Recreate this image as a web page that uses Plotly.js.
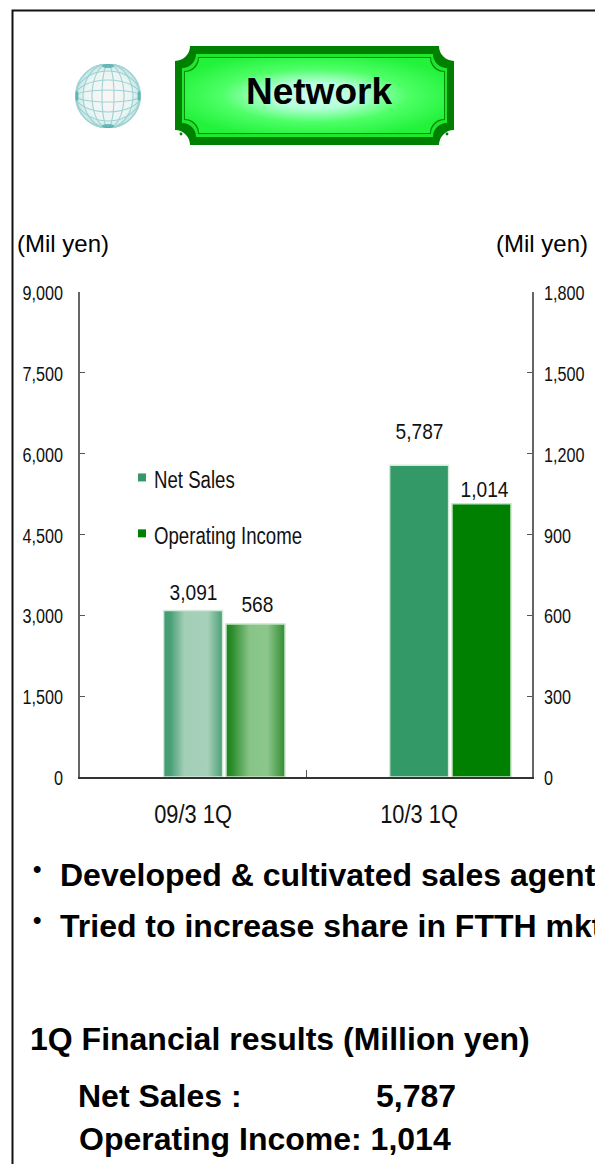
<!DOCTYPE html>
<html>
<head>
<meta charset="utf-8">
<script src="https://cdn.plot.ly/plotly-3.0.1.min.js"></script>
<style>
  html, body { margin: 0; padding: 0; background: #fff; overflow: hidden; }
  #chart { width: 595px; height: 1164px; }
</style>
</head>
<body>
<div id="chart"></div>
<script>
// Quarterly results for the Network segment
const categories = ['09/3 1Q', '10/3 1Q'];
const netSales = [3091, 5787];
const operatingIncome = [568, 1014];
const netSalesTicks = [0, 1500, 3000, 4500, 6000, 7500, 9000];
const incomeTicks = [0, 300, 600, 900, 1200, 1500, 1800];

const W = 595, H = 1164;
const plot = { l: 80, r: 532, t: 292, b: 777 };
const SANS = '"Liberation Sans", Arial, sans-serif';
const px = x => (x - plot.l) / (plot.r - plot.l);
const py = y => (plot.b - y) / (plot.b - plot.t);

// Scalloped plate outline used by the heading badge
function plate(x0, y0, x1, y1, r) {
  return `M${x0 + r},${y0}H${x1 - r}A${r},${r} 0 0 0 ${x1},${y0 + r}V${y1 - r}` +
         `A${r},${r} 0 0 0 ${x1 - r},${y1}H${x0 + r}A${r},${r} 0 0 0 ${x0},${y1 - r}` +
         `V${y0 + r}A${r},${r} 0 0 0 ${x0 + r},${y0}Z`;
}

const badgeSvg = `<svg xmlns="http://www.w3.org/2000/svg" width="279" height="99" viewBox="175 46 279 99">
<defs><radialGradient id="g" cx="50%" cy="50%" r="58%">
<stop offset="0" stop-color="#ccfff4"/><stop offset=".3" stop-color="#b4ffd8"/>
<stop offset=".62" stop-color="#4dff66"/><stop offset="1" stop-color="#22f23a"/></radialGradient></defs>
<path d="${plate(175, 46, 454, 145, 15)}" fill="#008000"/>
<path d="${plate(182, 54, 447, 137, 14)}" fill="#1fe62c"/>
<path d="${plate(184, 57, 445, 134, 14)}" fill="#0a8a0a"/>
<path d="${plate(185, 58, 444, 133, 14)}" fill="url(#g)"/>
<circle cx="181" cy="134" r="1.4" fill="#008000"/><circle cx="447" cy="134" r="1.4" fill="#008000"/>
</svg>`;

const globeLines = [6, 16, 25, 32].map(r =>
  `<ellipse cx="32.5" cy="32" rx="${r}" ry="32"/><ellipse cx="32.5" cy="32" rx="32.5" ry="${r}"/>`).join('');
const globeSvg = `<svg xmlns="http://www.w3.org/2000/svg" width="66" height="64" viewBox="0 0 65 64">
<defs><radialGradient id="s" cx="50%" cy="50%" r="50%">
<stop offset="0" stop-color="#fbf6f6"/><stop offset=".75" stop-color="#eaf5f4"/><stop offset="1" stop-color="#c4e5e5"/></radialGradient></defs>
<circle cx="32.5" cy="32" r="32" fill="url(#s)"/>
<g fill="none" stroke="#8cc9c9" stroke-width="1.1" opacity=".8">${globeLines}</g>
<g fill="#2f9c9c" opacity=".6"><ellipse cx="32.5" cy="2" rx="6" ry="2"/><ellipse cx="32.5" cy="62" rx="6" ry="2"/>
<ellipse cx="1.5" cy="32" rx="1.5" ry="5"/><ellipse cx="63.5" cy="32" rx="1.5" ry="5"/></g></svg>`;
const dataUri = s => 'data:image/svg+xml;charset=utf-8,' + encodeURIComponent(s);

// Free text placed in page pixels; x is the left edge, y the vertical centre
function note(text, x, y, size) {
  return {
    text, xref: 'paper', yref: 'paper', x: px(x), y: py(y),
    xanchor: 'left', yanchor: 'middle', showarrow: false,
    font: { family: SANS, size, color: '#000' }, borderpad: 0
  };
}
const boldNote = (text, x, y, size) => note('<b>' + text + '</b>', x, y, size);

// Value labels sit above their bars, each on the axis of its own series
const VALUE_SIZE = 22;
const valueLabel = (value, x, yref, lift) => ({
  text: value.toLocaleString('en-US'), x, y: value, xref: 'x', yref,
  yanchor: 'bottom', yshift: lift, showarrow: false,
  font: { family: SANS, size: VALUE_SIZE, color: '#111' }
});

const traces = [
  {
    type: 'bar', name: 'Net Sales', x: categories, y: netSales, yaxis: 'y',
    width: 0.261, offset: -0.13,
    marker: { color: '#339966', line: { color: '#d4ebdc', width: 1.5 } }, legendgroup: 'a'
  },
  {
    type: 'bar', name: 'Operating Income', x: categories, y: operatingIncome, yaxis: 'y2',
    width: 0.261, offset: 0.146,
    marker: { color: '#008000', line: { color: '#c4e6c4', width: 1.5 } }, legendgroup: 'b'
  }
];

const yAxisBase = {
  ticks: 'inside', ticklen: 5, tickwidth: 1, tickcolor: '#555',
  showline: true, linecolor: '#666', linewidth: 2, showgrid: false, zeroline: false,
  tickfont: { family: SANS, size: 20, color: '#111' }, tickformat: ',d'
};

const layout = {
  width: W, height: H,
  margin: { l: plot.l, r: W - plot.r, t: plot.t, b: H - plot.b, pad: 0 },
  paper_bgcolor: '#fff', plot_bgcolor: 'rgba(0,0,0,0)',
  barmode: 'overlay', bargap: 0,
  showlegend: true,
  legend: {
    x: px(114), y: py(458), xanchor: 'left', yanchor: 'top',
    font: { family: SANS, size: 23, color: '#111' },
    tracegroupgap: 23, bgcolor: 'rgba(0,0,0,0)', itemclick: false, itemdoubleclick: false
  },
  xaxis: {
    type: 'category', range: [-0.5, 1.5], tickson: 'boundaries',
    ticks: 'inside', ticklen: 7, tickwidth: 1, tickcolor: '#555',
    showline: true, linecolor: '#333', linewidth: 2, showgrid: false, zeroline: false,
    tickfont: { family: SANS, size: 26, color: '#111' }, ticklabelstandoff: 13
  },
  yaxis: Object.assign({}, yAxisBase, {
    range: [0, 9000], tickvals: netSalesTicks, ticklabelstandoff: 11
  }),
  yaxis2: Object.assign({}, yAxisBase, {
    overlaying: 'y', side: 'right', range: [0, 1800], tickvals: incomeTicks, ticklabelstandoff: 6
  }),
  images: [
    { source: dataUri(badgeSvg), xref: 'paper', yref: 'paper', x: px(175), y: py(46),
      sizex: px(454) - px(175), sizey: py(46) - py(145), xanchor: 'left', yanchor: 'top',
      sizing: 'stretch', layer: 'below' },
    { source: dataUri(globeSvg), xref: 'paper', yref: 'paper', x: px(75), y: py(64),
      sizex: px(141) - px(75), sizey: py(64) - py(128), xanchor: 'left', yanchor: 'top',
      sizing: 'stretch', layer: 'below' }
  ],
  shapes: [
    { type: 'path', xref: 'paper', yref: 'paper',
      path: `M${px(12.5)},${py(1170)}L${px(12.5)},${py(10.5)}L${px(600)},${py(10.5)}`,
      line: { color: '#111', width: 2 }, fillcolor: 'rgba(0,0,0,0)' }
  ],
  annotations: [
    boldNote('Network', 245, 92, 37),
    note('(Mil yen)', 16, 244, 24),
    note('(Mil yen)', 495, 244, 24),
    valueLabel(netSales[0], 0, 'y', 3),
    valueLabel(netSales[1], 1, 'y', 19),
    valueLabel(operatingIncome[0], 0.285, 'y2', 5),
    valueLabel(operatingIncome[1], 1.29, 'y2', 0),
    boldNote('•', 32, 868, 24),
    boldNote('Developed &amp; cultivated sales agent', 59, 875, 32),
    boldNote('•', 32, 919, 24),
    boldNote('Tried to increase share in FTTH mkt', 59, 926, 32),
    boldNote('1Q Financial results (Million yen)', 29, 1039, 32),
    boldNote('Net Sales :', 77, 1096, 32),
    boldNote('5,787', 375, 1096, 32),
    boldNote('Operating Income: 1,014', 78, 1139, 32)
  ]
};

// Cylinder shading on the earlier quarter's bars
function addCylinderFill(svg, id, stops) {
  const NS = 'http://www.w3.org/2000/svg';
  const grad = document.createElementNS(NS, 'linearGradient');
  grad.setAttribute('id', id);
  grad.setAttribute('x1', '0'); grad.setAttribute('x2', '1');
  grad.setAttribute('y1', '0'); grad.setAttribute('y2', '0');
  stops.forEach(([o, c]) => {
    const s = document.createElementNS(NS, 'stop');
    s.setAttribute('offset', o); s.setAttribute('stop-color', c);
    grad.appendChild(s);
  });
  svg.querySelector('defs').appendChild(grad);
}

// Condense a label horizontally, keeping its anchor where it is
function condense(el, factor) {
  el.setAttribute('textLength', el.getComputedTextLength() * factor);
  el.setAttribute('lengthAdjust', 'spacingAndGlyphs');
}

Plotly.newPlot('chart', traces, layout, { staticPlot: true, displayModeBar: false }).then(gd => {
  const svg = gd.querySelector('svg.main-svg');
  addCylinderFill(svg, 'salesFill', [[0, '#3f9c70'], [.12, '#4a9f77'], [.35, '#a3cfb7'], [.75, '#a6d0b9'], [1, '#4b9f76']]);
  addCylinderFill(svg, 'incomeFill', [[0, '#1d861d'], [.1, '#2b8c2b'], [.4, '#88c488'], [.7, '#8cc68c'], [1, '#338c33']]);
  const fills = ['salesFill', 'incomeFill'];
  gd.querySelectorAll('.barlayer .trace').forEach((g, i) => {
    g.querySelector('.point path').style.fill = `url(#${fills[i]})`;
  });

  // Small square legend keys set close to their labels
  gd.querySelectorAll('.legendpoints').forEach(g => {
    g.querySelector('path').setAttribute('d', 'M4,4H-4V-4H4Z');
    g.querySelector('path').style.strokeWidth = '0';
    g.setAttribute('transform', 'translate(8,-2)');
  });

  gd.querySelectorAll('.ytick text, .y2tick text').forEach(t => {
    condense(t, 0.81);
    t.setAttribute('y', parseFloat(t.getAttribute('y')) + 1);
  });
  gd.querySelectorAll('.xtick text').forEach(t => condense(t, 0.84));
  gd.querySelectorAll('.legendtext').forEach(t => condense(t, 0.81));
  gd.querySelectorAll('.annotation-text').forEach(t => {
    if (parseFloat(t.style.fontSize) === VALUE_SIZE) condense(t, 0.87);
  });
});
</script>
</body>
</html>
